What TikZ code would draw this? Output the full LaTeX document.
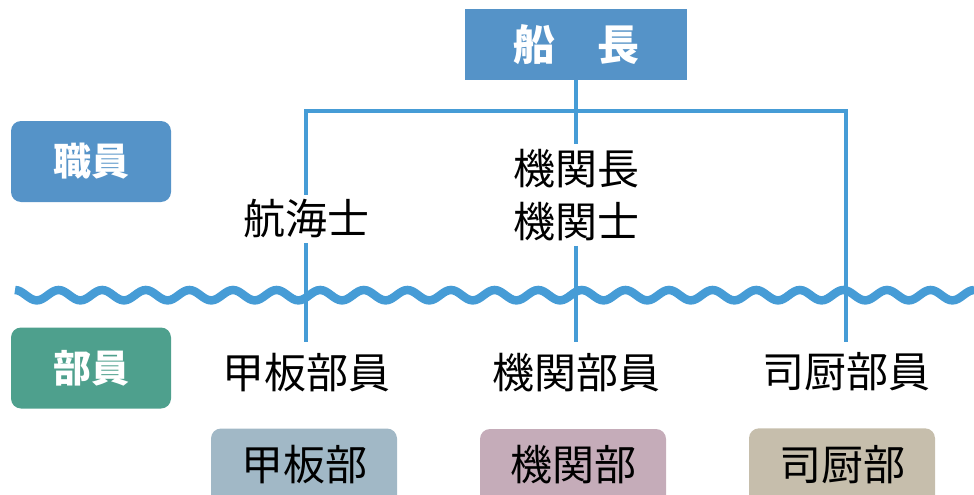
\documentclass[tikz,border=0pt]{standalone}
\usepackage{fontspec}
\setmainfont{Noto Sans CJK JP}
\usetikzlibrary{positioning}

\definecolor{chiefblue}{HTML}{5593C8}
\definecolor{treeblue}{HTML}{469CD6}
\definecolor{crewgreen}{HTML}{4EA08D}
\definecolor{kohancol}{HTML}{A1B8C6}
\definecolor{kikancol}{HTML}{C5ACB9}
\definecolor{shichucol}{HTML}{C6BEAC}

\begin{document}
\begin{tikzpicture} [
                x=1pt, y=1pt,
                chiefnode/.style={
                    rectangle,
                    fill=chiefblue,
                    text=white,
                    font=\fontsize{42pt}{50pt}\selectfont\bfseries,
                    minimum width=222pt,
                    minimum height=71pt,
                    text height=35pt,
                    text depth=3.4pt
                },
                ranknode/.style={
                    rectangle,
                    font=\fontsize{42pt}{50pt}\selectfont,
                    inner xsep=2pt,
                    inner ysep=5pt,
                    text height=35pt,
                    text depth=3.4pt
                },
                crewnode/.style={
                    ranknode,
                    inner ysep=11pt
                },
                deptnode/.style={
                    rectangle,
                    rounded corners=10pt,
                    font=\fontsize{42pt}{50pt}\selectfont,
                    minimum width=186pt,
                    minimum height=80pt,
                    text height=35pt,
                    text depth=11.4pt
                },
                tagnode/.style={
                    rectangle,
                    rounded corners=10pt,
                    text=white,
                    font=\fontsize{38pt}{46pt}\selectfont\bfseries,
                    minimum width=160pt,
                    minimum height=81pt,
                    text height=31.7pt,
                    text depth=3pt
                },
                treeline/.style={
                    draw=treeblue,
                    line width=4.5pt
                },
                waveline/.style={
                    draw=treeblue,
                    line width=8.5pt
                }
            ]

                \useasboundingbox (0,0) rectangle (974,-495);
                \clip (0,0) rectangle (974,-495);

                \node[chiefnode]                    (captain)   at (576,-44.5)                      {船　長};
                \node[ranknode]                     (kikancho)  [below=63.7pt of captain]           {機関長};
                \node[ranknode]                     (kikanshi)  [below=4.4pt of kikancho]           {機関士};
                \node[crewnode]                     (kikanin)   [below=96.4pt of kikanshi]          {機関部員};
                \node[deptnode, fill=kikancol]      (kikanbu)   [below=25.7pt of kikanin, xshift=-3pt]  {機関部};

                \node[ranknode]                     (kokaishi)  at (306,-219)                       {航海士};
                \node[crewnode]                     (kohanin)   [below=98.4pt of kokaishi]          {甲板部員};
                \node[deptnode, fill=kohancol]      (kohanbu)   [below=25.7pt of kohanin, xshift=-2pt]  {甲板部};

                \node[crewnode]                     (shichuin)  at (846,-372)                       {司厨部員};
                \node[deptnode, fill=shichucol]     (shichubu)  [below=25.7pt of shichuin, xshift=-4pt] {司厨部};

                \node[tagnode, fill=chiefblue]      (shokuin)   at (91,-161.5)                      {職員};
                \node[tagnode, fill=crewgreen]      (buin)      at (91,-368)                        {部員};

                \coordinate (bar) at (captain |- 0,-111);

                \draw[waveline] (15,-290) \foreach \i in {1,...,22} {
                    cos ++(10.9,-5.2) sin ++(10.9,-5.2) cos ++(10.9,5.2) sin ++(10.9,5.2)
                };

                \draw[treeline] (captain) -- (kikancho);
                \draw[treeline] (kikanshi) -- (kikanin);
                \draw[treeline] (kokaishi) -- (kohanin);
                \draw[treeline] (kokaishi.north) |- (bar) -| (shichuin.north);

            \end{tikzpicture}
\end{document}
